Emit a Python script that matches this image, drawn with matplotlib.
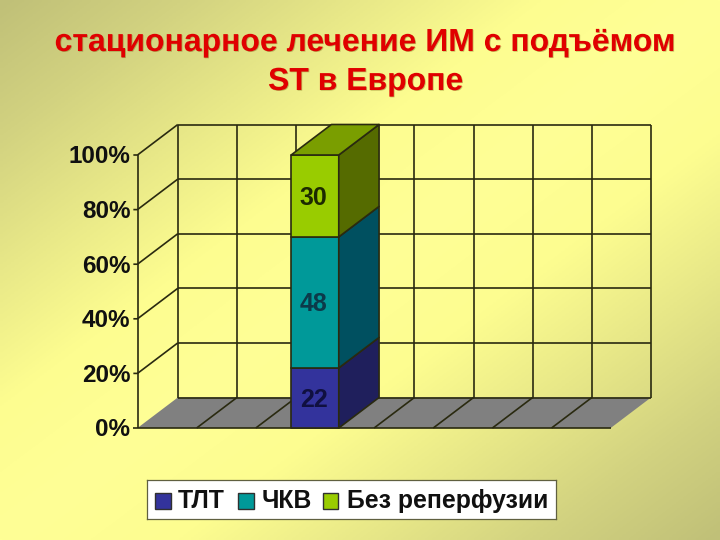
import numpy as np
from matplotlib import pyplot as plt
from matplotlib import patheffects as pe
from matplotlib.colors import LinearSegmentedColormap
from matplotlib.patches import Polygon, Rectangle

plt.rcParams['font.family'] = ['Liberation Sans', 'DejaVu Sans']

title_lines = ['стационарное лечение ИМ с подъёмом', 'ST в Европе']
series_names = ['ТЛТ', 'ЧКВ', 'Без реперфузии']
series_values = [22, 48, 30]
y_ticks = [0, 20, 40, 60, 80, 100]
n_slots = 8
bar_pos = 3.0

front_colors = ['#33339c', '#009999', '#99cc00']
side_colors = ['#1f1f5c', '#005060', '#556b00']
label_colors = ['#101040', '#0c3a4a', '#1c2a00']
top_color = '#7a9e00'

W, H = 720, 540
fig = plt.figure(figsize=(W / 100, H / 100), dpi=100)

# background gradient, dark in two corners and bright on the other diagonal
bg = fig.add_axes([0, 0, 1, 1], zorder=0)
xx, yy = np.meshgrid(np.linspace(0, 1, 200), np.linspace(0, 1, 200))
t = np.abs(xx + yy - 1.0)
cmap = LinearSegmentedColormap.from_list(
    'bg', [(0, '#ffff96'), (0.25, '#fdfd90'), (0.5, '#e8e888'), (0.75, '#d2d280'), (1, '#c0c078')])
bg.imshow(t, cmap=cmap, vmin=0, vmax=1, extent=[0, 1, 0, 1], aspect='auto', origin='upper')
bg.axis('off')

# axes match the front plane of the 3d box
ax = fig.add_axes([137.5 / W, (H - 428) / H, 473.2 / W, 273 / H], zorder=1)
ax.set_xlim(0, n_slots)
ax.set_ylim(0, 100)
ax.axis('off')

# depth of the box in data units
dx = 40.3 / (473.2 / n_slots)
dy = 30.5 / 2.73
line = '#2a2a10'
lw = 1.2


def poly(pts, fc, z, ec=line, width=lw):
    ax.add_patch(Polygon(pts, closed=True, facecolor=fc, edgecolor=ec, linewidth=width,
                         zorder=z, clip_on=False, joinstyle='round'))


def seg(xs, ys, z=2, width=lw):
    ax.plot(xs, ys, color=line, linewidth=width, zorder=z, clip_on=False, solid_capstyle='butt')


# floor
poly([(0, 0), (n_slots, 0), (n_slots + dx, dy), (dx, dy)], '#808080', 1, ec='none', width=0)
seg([0, n_slots], [0, 0])
for i in range(1, n_slots):
    seg([i, i + dx], [0, dy])

# walls
for v in y_ticks:
    if v > 0:
        seg([dx, n_slots + dx], [v + dy, v + dy])
        seg([-0.07, 0, dx], [v, v, v + dy])
    else:
        seg([-0.07, 0], [v, v])
        seg([dx, n_slots + dx], [dy, dy])
seg([0, 0], [0, 100])
seg([dx, dx], [dy, 100 + dy])
for i in range(1, n_slots + 1):
    seg([i + dx, i + dx], [dy, 100 + dy])

# stacked bar
w = 0.805
x0 = bar_pos - w / 2
x1 = bar_pos + w / 2
bottom = 0
for val, fc, sc, tc in zip(series_values, front_colors, side_colors, label_colors):
    poly([(x0, bottom), (x1, bottom), (x1, bottom + val), (x0, bottom + val)], fc, 5)
    poly([(x1, bottom), (x1 + dx, bottom + dy), (x1 + dx, bottom + val + dy), (x1, bottom + val)], sc, 5)
    ax.text(bar_pos - 0.02, bottom + val / 2 - 0.7, str(val), ha='center', va='center',
            fontsize=18, fontweight='bold', color=tc, zorder=7)
    bottom += val
poly([(x0, 100), (x1, 100), (x1 + dx, 100 + dy), (x0 + dx, 100 + dy)], top_color, 5)

# tick labels
for v in y_ticks:
    ax.text(-0.12, v - 0.7, f'{v}%', ha='right', va='center', fontsize=17.5, fontweight='bold',
            color='#101010', zorder=7)

# legend box, drawn by hand so it can sit in pixel position
leg = fig.add_axes([147 / W, (H - 519) / H, 409 / W, 39 / H], zorder=2)
leg.set_xlim(147, 556)
leg.set_ylim(519, 480)
leg.set_xticks([])
leg.set_yticks([])
leg.set_facecolor('white')
for s in leg.spines.values():
    s.set_color('#606040')
    s.set_linewidth(0.9)
for name, fc, xs, xt in zip(series_names, front_colors, [155, 238, 322.5], [178, 262, 347]):
    leg.add_patch(Rectangle((xs, 493), 15.5, 15.5, facecolor=fc, edgecolor='#303030', linewidth=1.0))
    leg.text(xt, 501, name, ha='left', va='center', fontsize=17.8, fontweight='bold', color='#101010')

shadow = [pe.withSimplePatchShadow(offset=(0.6, -0.5), shadow_rgbFace='#6a5000', alpha=0.35)]
for line_text, ypx in zip(title_lines, [43, 82]):
    fig.text(366 / W, (H - ypx) / H, line_text, ha='center', va='center',
             fontsize=23, color='#e00000', fontweight='bold', path_effects=shadow)

fig.savefig('out.png', dpi=100)
